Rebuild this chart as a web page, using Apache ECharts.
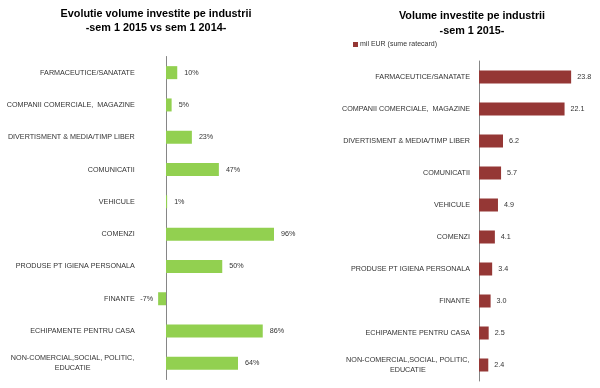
<!DOCTYPE html>
<html><head><meta charset="utf-8">
<script src="https://cdn.jsdelivr.net/npm/echarts@6/dist/echarts.min.js"></script>
<style>html,body{margin:0;padding:0;background:#fff}#c{width:600px;height:388px}</style>
</head><body><div id="c"></div>
<script>
const categories = [
  'FARMACEUTICE/SANATATE',
  'COMPANII COMERCIALE,  MAGAZINE',
  'DIVERTISMENT & MEDIA/TIMP LIBER',
  'COMUNICATII',
  'VEHICULE',
  'COMENZI',
  'PRODUSE PT IGIENA PERSONALA',
  'FINANTE',
  'ECHIPAMENTE PENTRU CASA',
  'NON-COMERCIAL,SOCIAL, POLITIC,\nEDUCATIE'
];
const evolutionPct = [10, 5, 23, 47, 1, 96, 50, -7, 86, 64];
const volumeMilEur = [23.8, 22.1, 6.2, 5.7, 4.9, 4.1, 3.4, 3.0, 2.5, 2.4];
const leftTitle = 'Evolutie volume investite pe industrii\n-sem 1 2015 vs sem 1 2014-';
const rightTitle = 'Volume investite pe industrii\n-sem 1 2015-';
const legendName = 'mil EUR (sume ratecard)';

const FONT = 'Liberation Sans';
const LBL = 7.2;
const ctx = document.createElement('canvas').getContext('2d');
ctx.font = LBL + 'px "' + FONT + '"';
function catFormatter(v) {
  const lines = v.split('\n');
  if (lines.length === 1) return v;
  return lines.map(l => '{m|' + l + '}').join('\n');
}
function richFor() {
  const lines = categories[9].split('\n');
  const w = Math.max.apply(null, lines.map(l => ctx.measureText(l).width)) + 1;
  return { m: { width: w, align: 'center', fontSize: LBL, fontFamily: FONT, color: '#333', lineHeight: 10 } };
}

const chart = echarts.init(document.getElementById('c'), null, {renderer: 'canvas'});
const catAxisCommon = {
  type: 'category', inverse: true, data: categories,
  axisTick: {show: false},
  axisLine: {show: true, onZero: true, lineStyle: {color: '#868686', width: 1}},
  axisLabel: {fontSize: LBL, fontFamily: FONT, color: '#333', formatter: catFormatter, rich: richFor(), interval: 0}
};
chart.setOption({
  animation: false,
  graphic: [
    {type: 'text', x: 156, y: 7, style: {text: leftTitle, font: 'bold 10.8px "' + FONT + '"', textAlign: 'center', fill: '#000', lineHeight: 14}},
    {type: 'text', x: 472, y: 8.5, style: {text: rightTitle, font: 'bold 10.8px "' + FONT + '"', textAlign: 'center', fill: '#000', lineHeight: 15}}
  ],
  legend: {
    data: [legendName], left: 348, top: 36, itemWidth: 5, itemHeight: 5, itemGap: 4,
    icon: 'rect', textStyle: {fontSize: 7, fontFamily: FONT, color: '#333', padding: [0,0,0,-3]}
  },
  grid: [
    {left: 154.75, width: 135, top: 56.5, height: 323, outerBoundsMode: 'none', containLabel: false},
    {left: 479, width: 108.4, top: 61, height: 320, outerBoundsMode: 'none', containLabel: false}
  ],
  xAxis: [
    {gridIndex: 0, type: 'value', min: -10, max: 110, show: false},
    {gridIndex: 1, type: 'value', min: 0, max: 28, show: false}
  ],
  yAxis: [
    Object.assign({gridIndex: 0}, catAxisCommon, {axisLabel: Object.assign({}, catAxisCommon.axisLabel, {margin: 20})}),
    Object.assign({gridIndex: 1}, catAxisCommon, {axisLabel: Object.assign({}, catAxisCommon.axisLabel, {margin: 9})})
  ],
  series: [
    {
      type: 'bar', xAxisIndex: 0, yAxisIndex: 0, barWidth: 13,
      itemStyle: {color: '#92D050'},
      data: evolutionPct.map(v => ({value: v, label: {position: v < 0 ? 'left' : 'right', distance: v < 0 ? 5 : 7}})),
      label: {show: true, formatter: p => p.value + '%', fontSize: LBL, fontFamily: FONT, color: '#333'}
    },
    {
      type: 'bar', name: legendName, xAxisIndex: 1, yAxisIndex: 1, barWidth: 13,
      itemStyle: {color: '#953735'},
      data: volumeMilEur,
      label: {show: true, position: 'right', distance: 6, formatter: p => p.value.toFixed(1), fontSize: LBL, fontFamily: FONT, color: '#333'}
    }
  ]
});
</script></body></html>
